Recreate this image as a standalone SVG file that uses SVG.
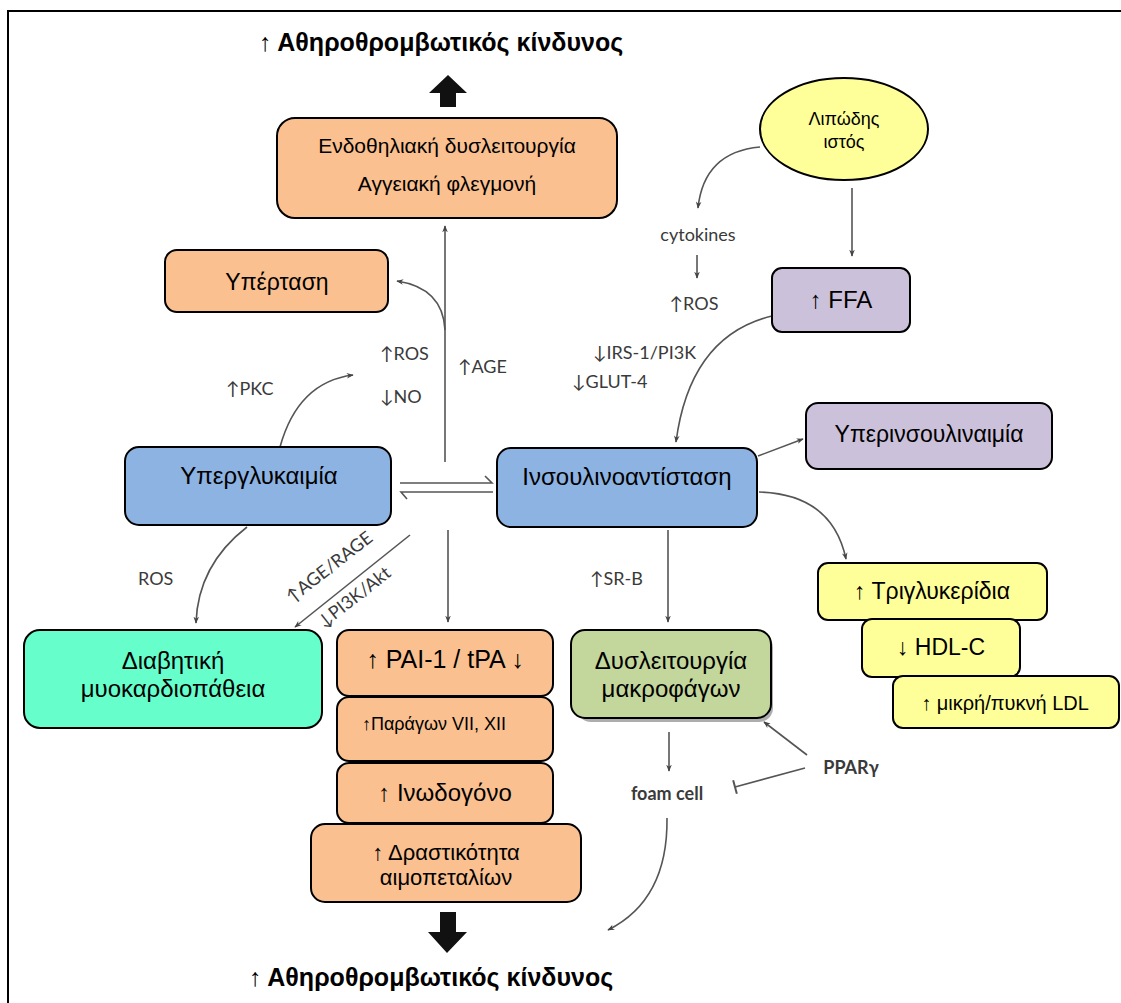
<svg xmlns="http://www.w3.org/2000/svg" width="1121" height="1003" viewBox="0 0 1121 1003">
  <style>
    .box { stroke: #000; stroke-width: 2; }
    .peach { fill: #FAC090; }
    .blue { fill: #8DB3E2; }
    .lilac { fill: #CCC1DA; }
    .yellow { fill: #FFFF99; }
    .green { fill: #C3D69B; }
    .mint { fill: #66FFCC; }
    .t { font-family: "Liberation Sans", Arial, sans-serif; fill: #000; text-anchor: middle; }
    .title { font-family: "Liberation Sans", Arial, sans-serif; font-weight: bold; font-size: 25px; fill: #000; text-anchor: middle; }
    .lbl { font-family: Lato, "Open Sans", sans-serif; fill: #3a3a3a; font-size: 18px; }
    .bold { font-weight: bold; }
    .conn { fill: none; stroke: #555; stroke-width: 1.6; }
  </style>
  <defs>
    <marker id="arr" viewBox="0 0 10 10" refX="9" refY="5" markerWidth="7" markerHeight="7" orient="auto-start-reverse" markerUnits="userSpaceOnUse">
      <path d="M0,1 L10,5 L0,9 L3,5 Z" fill="#444"/>
    </marker>
    <marker id="bar" viewBox="0 0 4 14" refX="2" refY="7" markerWidth="4" markerHeight="14" orient="auto" markerUnits="userSpaceOnUse">
      <path d="M2,0 L2,14" stroke="#555" stroke-width="2"/>
    </marker>
  </defs>

  <rect width="1121" height="1003" fill="#fff"/>
  <!-- frame -->
  <path d="M8,1003 L8,11 L1121,11" fill="none" stroke="#000" stroke-width="2"/>

  <!-- outcome titles and block arrows -->
  <text class="title" x="441" y="51">↑ Αθηροθρομβωτικός κίνδυνος</text>
  <path d="M448,75 L467,93 L456,93 L456,107 L440,107 L440,93 L429,93 Z" fill="#111"/>
  <path d="M440,912 L456,912 L456,932 L467,932 L447,953 L428,932 L440,932 Z" fill="#111"/>
  <text class="title" x="431" y="986">↑ Αθηροθρομβωτικός κίνδυνος</text>

  <!-- connectors -->
  <g id="connectors">
    <line class="conn" x1="445" y1="462" x2="445" y2="226" marker-end="url(#arr)"/>
    <path class="conn" d="M445,330 Q443,288 397,281" marker-end="url(#arr)"/>
    <path class="conn" d="M280,447 Q298,382 353,375" marker-end="url(#arr)"/>
    <!-- reversible pair -->
    <path class="conn" d="M400,483 L492,483 L485,476"/>
    <path class="conn" d="M493,492 L401,492 L407,499"/>
    <line class="conn" x1="448" y1="530" x2="448" y2="622" marker-end="url(#arr)"/>
    <path class="conn" d="M247,527 Q198,565 196,623" marker-end="url(#arr)"/>
    <line class="conn" x1="410" y1="535" x2="295" y2="627" marker-end="url(#arr)"/>
    <!-- adipose tissue -->
    <path class="conn" d="M760,147 Q704,152 698,208" marker-end="url(#arr)"/>
    <line class="conn" x1="697" y1="255" x2="697" y2="278" marker-end="url(#arr)"/>
    <line class="conn" x1="852" y1="188" x2="852" y2="256" marker-end="url(#arr)"/>
    <path class="conn" d="M772,316 Q690,336 676,442" marker-end="url(#arr)"/>
    <!-- insulin resistance outputs -->
    <line class="conn" x1="758" y1="456" x2="803" y2="439" marker-end="url(#arr)"/>
    <path class="conn" d="M759,492 Q832,494 846,559" marker-end="url(#arr)"/>
    <line class="conn" x1="668" y1="530" x2="668" y2="622" marker-end="url(#arr)"/>
    <line class="conn" x1="669" y1="732" x2="669" y2="771" marker-end="url(#arr)"/>
    <line class="conn" x1="807" y1="755" x2="764" y2="722" marker-end="url(#arr)"/>
    <line class="conn" x1="805" y1="768" x2="735" y2="787" marker-end="url(#bar)"/>
    <path class="conn" d="M667,818 Q668,900 608,930" marker-end="url(#arr)"/>
  </g>

  <!-- connector labels -->
  <g id="labels">
    <text class="lbl" x="380" y="360">↑ROS</text>
    <text class="lbl" x="380" y="403">↓NO</text>
    <text class="lbl" x="458" y="373">↑AGE</text>
    <text class="lbl" x="226" y="395">↑PKC</text>
    <text class="lbl" x="138" y="585" font-size="19">ROS</text>
    <text class="lbl" x="333" y="572" text-anchor="middle" font-size="16" transform="rotate(-38 333 572)">↑AGE/RAGE</text>
    <text class="lbl" x="358" y="602" text-anchor="middle" font-size="16" transform="rotate(-38 358 602)">↓PI3K/Akt</text>
    <text class="lbl" x="698" y="241" text-anchor="middle" font-size="13.5">cytokines</text>
    <text class="lbl" x="694" y="310" text-anchor="middle">↑ROS</text>
    <text class="lbl" x="593" y="359" font-size="17">↓IRS-1/PI3K</text>
    <text class="lbl" x="572" y="388" font-size="18">↓GLUT-4</text>
    <text class="lbl" x="590" y="585">↑SR-B</text>
    <text class="lbl bold" x="667" y="800" text-anchor="middle" font-size="19">foam cell</text>
    <text class="lbl bold" x="851" y="774" text-anchor="middle" font-size="21">PPARγ</text>
  </g>

  <!-- nodes -->
  <g id="endothelial">
    <rect class="box peach" x="277" y="118" width="340" height="100" rx="18"/>
    <text class="t" x="447" y="153" font-size="21">Ενδοθηλιακή δυσλειτουργία</text>
    <text class="t" x="447" y="191" font-size="21">Αγγειακή φλεγμονή</text>
  </g>
  <g id="hypertension">
    <rect class="box peach" x="165" y="250" width="223" height="62" rx="12"/>
    <text class="t" x="277" y="290" font-size="23">Υπέρταση</text>
  </g>
  <g id="hyperglycemia">
    <rect class="box blue" x="125" y="447" width="266" height="78" rx="14"/>
    <text class="t" x="259" y="484" font-size="24">Υπεργλυκαιμία</text>
  </g>
  <g id="insulin-resistance">
    <rect class="box blue" x="497" y="448" width="260" height="79" rx="14"/>
    <text class="t" x="627" y="485" font-size="24">Ινσουλινοαντίσταση</text>
  </g>
  <g id="adipose">
    <ellipse class="box yellow" cx="844" cy="129" rx="84" ry="51"/>
    <text class="t" x="844" y="125" font-size="18">Λιπώδης</text>
    <text class="t" x="844" y="148" font-size="18">ιστός</text>
  </g>
  <g id="ffa">
    <rect class="box lilac" x="772" y="268" width="138" height="64" rx="10"/>
    <text class="t" x="841" y="308" font-size="24">↑ FFA</text>
  </g>
  <g id="hyperinsulinemia">
    <rect class="box lilac" x="806" y="403" width="246" height="66" rx="12"/>
    <text class="t" x="929" y="442" font-size="23">Υπερινσουλιναιμία</text>
  </g>
  <g id="triglycerides">
    <rect class="box yellow" x="818" y="563" width="229" height="57" rx="10"/>
    <text class="t" x="932" y="599" font-size="23">↑ Τριγλυκερίδια</text>
  </g>
  <g id="hdl">
    <rect class="box yellow" x="862" y="619" width="158" height="58" rx="10"/>
    <text class="t" x="941" y="655" font-size="23">↓ HDL-C</text>
  </g>
  <g id="ldl">
    <rect class="box yellow" x="893" y="676" width="226" height="52" rx="10"/>
    <text class="t" x="1005" y="710" font-size="20">↑ μικρή/πυκνή LDL</text>
  </g>
  <g id="cardiomyopathy">
    <rect class="box mint" x="24" y="630" width="298" height="98" rx="16"/>
    <text class="t" x="173" y="669" font-size="24">Διαβητική</text>
    <text class="t" x="173" y="697" font-size="24">μυοκαρδιοπάθεια</text>
  </g>
  <g id="pai">
    <rect class="box peach" x="337" y="630" width="216" height="66" rx="12"/>
    <text class="t" x="445" y="668" font-size="25">↑ PAI-1 / tPA ↓</text>
  </g>
  <g id="factors">
    <rect class="box peach" x="337" y="697" width="216" height="64" rx="12"/>
    <text class="t" x="434" y="730" font-size="18">↑Παράγων VII, XII</text>
  </g>
  <g id="fibrinogen">
    <rect class="box peach" x="337" y="763" width="216" height="60" rx="12"/>
    <text class="t" x="445" y="801" font-size="24">↑ Ινωδογόνο</text>
  </g>
  <g id="platelets">
    <rect class="box peach" x="311" y="824" width="270" height="78" rx="14"/>
    <text class="t" x="446" y="860" font-size="22">↑ Δραστικότητα</text>
    <text class="t" x="446" y="885" font-size="22">αιμοπεταλίων</text>
  </g>
  <g id="macrophage">
    <rect x="577" y="634" width="196" height="88" rx="14" fill="#777" opacity="0.6"/>
    <rect class="box green" x="571" y="630" width="200" height="88" rx="14"/>
    <text class="t" x="671" y="669" font-size="24">Δυσλειτουργία</text>
    <text class="t" x="671" y="697" font-size="24">μακροφάγων</text>
  </g>
</svg>
